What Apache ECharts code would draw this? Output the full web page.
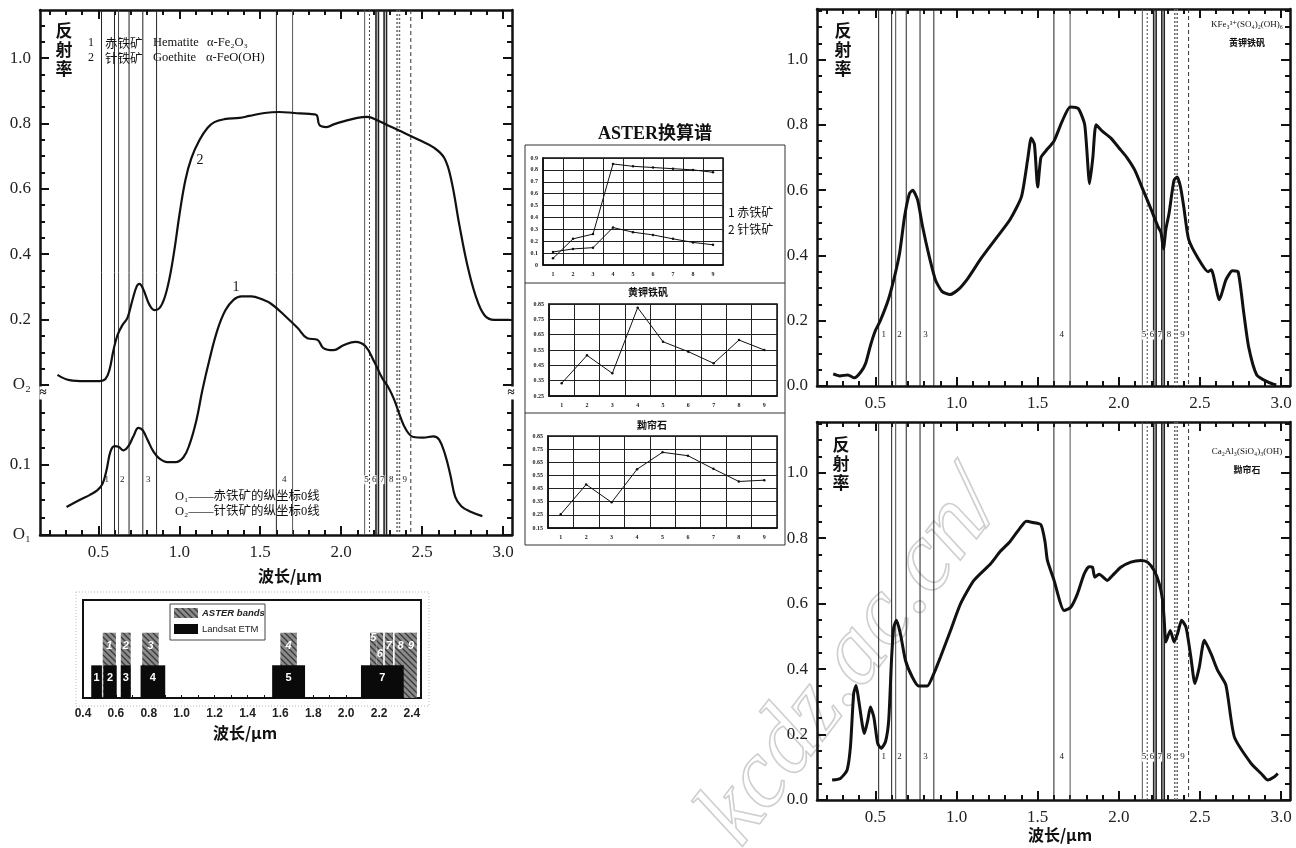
<!DOCTYPE html>
<html><head><meta charset="utf-8">
<script src="https://cdn.jsdelivr.net/npm/echarts@6/dist/echarts.min.js"></script>
<style>html,body{margin:0;padding:0;background:#fff}#c{width:1296px;height:848px}</style>
</head><body><div id="c"></div>
<script>
// ================= DATA =================
// Left panel: hematite (curve 1, lower zero O1) and goethite (curve 2, upper zero O2); [wavelength um, reflectance]
const hematiteCurve = [[0.304,0.040],[0.384,0.050],[0.446,0.057],[0.495,0.064],[0.526,0.073],[0.551,0.093],[0.575,0.119],[0.600,0.127],[0.625,0.126],[0.656,0.121],[0.686,0.127],[0.717,0.141],[0.748,0.153],[0.773,0.150],[0.804,0.136],[0.841,0.119],[0.878,0.109],[0.927,0.104],[0.977,0.104],[1.026,0.111],[1.063,0.129],[1.106,0.164],[1.143,0.207],[1.186,0.250],[1.236,0.293],[1.285,0.321],[1.335,0.336],[1.384,0.341],[1.446,0.341],[1.508,0.337],[1.569,0.330],[1.649,0.314],[1.730,0.296],[1.791,0.281],[1.853,0.279],[1.890,0.267],[1.952,0.264],[2.014,0.271],[2.088,0.276],[2.149,0.270],[2.205,0.247],[2.254,0.224],[2.291,0.211],[2.328,0.193],[2.365,0.169],[2.402,0.150],[2.446,0.140],[2.507,0.139],[2.569,0.141],[2.606,0.136],[2.643,0.114],[2.674,0.086],[2.705,0.054],[2.742,0.041],[2.792,0.034],[2.872,0.027]];
const goethiteCurve = [[0.248,0.031],[0.322,0.015],[0.415,0.012],[0.507,0.012],[0.544,0.018],[0.569,0.046],[0.594,0.107],[0.619,0.153],[0.649,0.183],[0.680,0.205],[0.711,0.260],[0.736,0.300],[0.754,0.309],[0.779,0.291],[0.816,0.245],[0.847,0.229],[0.878,0.235],[0.909,0.266],[0.940,0.327],[0.970,0.413],[1.001,0.520],[1.038,0.627],[1.075,0.694],[1.125,0.749],[1.174,0.786],[1.217,0.804],[1.279,0.813],[1.372,0.817],[1.433,0.823],[1.526,0.832],[1.618,0.835],[1.711,0.832],[1.804,0.829],[1.847,0.826],[1.866,0.795],[1.909,0.789],[1.958,0.798],[2.020,0.807],[2.100,0.817],[2.161,0.820],[2.223,0.810],[2.297,0.792],[2.390,0.771],[2.482,0.749],[2.575,0.725],[2.637,0.694],[2.680,0.627],[2.730,0.489],[2.779,0.367],[2.829,0.275],[2.884,0.214],[2.946,0.199],[3.039,0.199]];
// Right panels: jarosite and zoisite spectra
const jarositeCurve = [[0.24,0.037],[0.28,0.031],[0.33,0.034],[0.37,0.025],[0.41,0.043],[0.44,0.070],[0.47,0.125],[0.50,0.170],[0.53,0.200],[0.58,0.265],[0.62,0.340],[0.65,0.410],[0.68,0.520],[0.71,0.590],[0.73,0.600],[0.76,0.570],[0.79,0.490],[0.83,0.400],[0.87,0.325],[0.91,0.290],[0.96,0.280],[1.01,0.295],[1.07,0.330],[1.15,0.390],[1.24,0.450],[1.33,0.510],[1.40,0.580],[1.44,0.700],[1.46,0.760],[1.48,0.740],[1.50,0.610],[1.52,0.700],[1.55,0.720],[1.60,0.750],[1.65,0.810],[1.70,0.855],[1.75,0.850],[1.79,0.800],[1.82,0.620],[1.84,0.700],[1.86,0.800],[1.90,0.780],[1.95,0.760],[2.00,0.730],[2.05,0.700],[2.10,0.660],[2.15,0.600],[2.20,0.540],[2.24,0.490],[2.26,0.470],[2.275,0.420],[2.29,0.480],[2.31,0.530],[2.34,0.630],[2.36,0.640],[2.38,0.610],[2.40,0.550],[2.43,0.450],[2.49,0.390],[2.55,0.350],[2.57,0.356],[2.62,0.264],[2.66,0.325],[2.70,0.353],[2.735,0.350],[2.77,0.224],[2.80,0.120],[2.85,0.034],[2.92,0.012],[2.97,0.003]];
const zoisiteCurve = [[0.233,0.061],[0.284,0.066],[0.325,0.091],[0.346,0.162],[0.366,0.325],[0.381,0.350],[0.397,0.305],[0.432,0.203],[0.453,0.244],[0.469,0.284],[0.490,0.254],[0.514,0.173],[0.535,0.158],[0.562,0.178],[0.582,0.244],[0.599,0.427],[0.613,0.528],[0.630,0.549],[0.654,0.508],[0.685,0.427],[0.727,0.376],[0.767,0.348],[0.819,0.348],[0.860,0.386],[0.901,0.437],[0.963,0.518],[1.025,0.600],[1.107,0.671],[1.210,0.722],[1.270,0.760],[1.330,0.790],[1.390,0.830],[1.430,0.852],[1.470,0.848],[1.520,0.841],[1.545,0.790],[1.560,0.732],[1.601,0.671],[1.663,0.579],[1.704,0.589],[1.745,0.630],[1.786,0.690],[1.817,0.713],[1.838,0.711],[1.852,0.681],[1.879,0.690],[1.930,0.671],[1.961,0.686],[2.012,0.711],[2.074,0.727],[2.136,0.732],[2.177,0.727],[2.218,0.701],[2.249,0.661],[2.270,0.610],[2.280,0.549],[2.290,0.483],[2.317,0.518],[2.341,0.483],[2.362,0.508],[2.387,0.549],[2.414,0.528],[2.444,0.437],[2.469,0.356],[2.496,0.406],[2.527,0.488],[2.568,0.447],[2.609,0.396],[2.660,0.351],[2.712,0.193],[2.815,0.112],[2.877,0.081],[2.918,0.061],[2.959,0.071],[2.980,0.081]];
// ASTER band edge lines and band number positions (um)
const bandEdges = [0.52,0.60,0.625,0.69,0.775,0.86,1.60,1.70,2.145,2.175,2.215,2.23,2.265,2.28,2.345,2.36,2.43];
const bandNames = ['1','2','3','4','5','6','7','8','9'];
const bandLabelX = [0.552,0.648,0.809,1.648,2.156,2.204,2.253,2.31,2.393];
// ASTER resampled spectra (bands 1-9)
const asterCategories = ['1','2','3','4','5','6','7','8','9'];
const asterHematite = [0.11,0.135,0.146,0.315,0.276,0.253,0.22,0.19,0.17];
const asterGoethite = [0.056,0.22,0.26,0.85,0.83,0.82,0.81,0.80,0.78];
const asterJarosite = [0.333,0.515,0.398,0.826,0.604,0.539,0.463,0.615,0.550];
const asterZoisite = [0.254,0.481,0.345,0.597,0.726,0.700,0.600,0.504,0.514];
// Band comparison (start um, end um, label)
const landsatBands = [[0.45,0.515,'1'],[0.525,0.605,'2'],[0.63,0.69,'3'],[0.75,0.90,'4'],[1.55,1.75,'5'],[2.09,2.35,'7']];
const asterBands = [[0.52,0.60,'1'],[0.63,0.69,'2'],[0.76,0.86,'3'],[1.60,1.70,'4'],[2.145,2.185,'5'],[2.185,2.225,'6'],[2.235,2.285,'7'],[2.295,2.365,'8'],[2.36,2.43,'9']];
// tick labels
const xTickLabels = [0.5,1.0,1.5,2.0,2.5,3.0];
const yTickLabels = [0,0.2,0.4,0.6,0.8,1.0];
const hemTickLabels = [0,0.1];
const barTickLabels = [0.4,0.6,0.8,1.0,1.2,1.4,1.6,1.8,2.0,2.2,2.4];

// ================= STYLE / LAYOUT =================
const INK = '#111';
const SERIF = '"Liberation Serif","DejaVu Serif","Noto Sans CJK SC",serif';
const CJK = '"Noto Sans CJK SC","Noto Sans",sans-serif';
const SANS = '"Liberation Sans","DejaVu Sans",sans-serif';
const X_MIN = 0.14, X_MAX = 3.055, Y_MAX = 1.155;
const edgeStyles = [
  {c:'#222',w:1,d:null},{c:'#222',w:1,d:null},{c:'#444',w:1,d:null},{c:'#222',w:1,d:null},{c:'#222',w:1,d:null},{c:'#222',w:1,d:null},
  {c:'#222',w:1,d:null},{c:'#555',w:1,d:null},{c:'#555',w:1,d:null},{c:'#444',w:1,d:[2,2]},{c:'#222',w:1.6,d:null},{c:'#222',w:1.6,d:null},
  {c:'#222',w:1.6,d:null},{c:'#222',w:1.6,d:null},{c:'#666',w:1.5,d:[2,2]},{c:'#666',w:1.5,d:[2,2]},{c:'#333',w:1,d:[4,3]}
];
const asterLabelLevel = [1.6,1.6,1.6,1.6,1.85,1.35,1.6,1.6,1.6];

function range(a,b,s){const o=[];for(let v=a;v<=b+1e-9;v+=s)o.push(+v.toFixed(4));return o;}
function minus(all,maj){return all.filter(v=>!maj.some(m=>Math.abs(m-v)<1e-6));}

const grid = [], xAxis = [], yAxis = [], series = [];
function base(){return {type:'value',axisLine:{show:false,onZero:false},axisTick:{show:false},axisLabel:{show:false},splitLine:{show:false}};}
function addX(o){xAxis.push(Object.assign(base(),o));return xAxis.length-1;}
function addY(o){yAxis.push(Object.assign(base(),o));return yAxis.length-1;}
function ticks(vals,len,w){return {show:true,inside:true,length:len,customValues:vals,lineStyle:{color:INK,width:w}};}
const frameLine = {show:true,onZero:false,lineStyle:{color:INK,width:2.5}};
function lbl(vals,fmt,extra){return Object.assign({show:true,customValues:vals,formatter:fmt,fontFamily:SERIF,fontSize:17,color:'#222',margin:9},extra||{});}

const xMinor = minus(range(0.2,3.0,0.1),xTickLabels);

function xFrame(gi){
  const X = {gridIndex:gi,min:X_MIN,max:X_MAX};
  const xb = addX(Object.assign({},X,{position:'bottom',axisLine:frameLine,axisTick:ticks(xTickLabels,9,2),axisLabel:lbl(xTickLabels,v=>v.toFixed(1))}));
  addX(Object.assign({},X,{position:'bottom',axisTick:ticks(xMinor,5,2)}));
  addX(Object.assign({},X,{position:'top',axisLine:frameLine,axisTick:ticks(xTickLabels,9,2)}));
  addX(Object.assign({},X,{position:'top',axisTick:ticks(xMinor,5,2)}));
  return xb;
}

function bandSeries(xi, yi, labelLevel){
  series.push({type:'custom',xAxisIndex:xi,yAxisIndex:yi,silent:true,z:1,
    data:bandEdges.map((v,i)=>[v,i]),
    renderItem:(p,api)=>{const x=api.coord([api.value(0),labelLevel])[0];const cs=p.coordSys;const s=edgeStyles[p.dataIndex];
      return {type:'line',shape:{x1:x,y1:cs.y,x2:x,y2:cs.y+cs.height},style:{stroke:s.c,lineWidth:s.w,lineDash:s.d}};}
  });
  series.push({type:'custom',xAxisIndex:xi,yAxisIndex:yi,silent:true,z:3,
    data:bandLabelX.map((v,i)=>[v,labelLevel]),
    renderItem:(p,api)=>{const pt=api.coord([api.value(0),api.value(1)]);
      return {type:'text',x:pt[0],y:pt[1],style:{text:bandNames[p.dataIndex],font:'9px '+SERIF,fill:'#222',align:'center',verticalAlign:'middle',backgroundColor:'#fff'}};}
  });
}

// ---------- Grid 0: left main ----------
grid.push({left:40,top:10,width:472,height:525});
const xA = xFrame(0);
const hemMinor = minus(range(0.025,0.175,0.025),hemTickLabels);
const goeMinor = minus(range(0.05,1.1,0.05),yTickLabels);
const fmtO = (n)=>(v=>v===0?'O'+n:v.toFixed(1));
const yHem = addY({gridIndex:0,min:0,max:0.75,position:'left',axisLine:frameLine,axisTick:ticks(hemTickLabels,9,2),axisLabel:lbl(hemTickLabels,fmtO('₁'))});
addY({gridIndex:0,min:0,max:0.75,position:'left',axisTick:ticks(hemMinor,5,2)});
addY({gridIndex:0,min:0,max:0.75,position:'right',axisLine:frameLine,axisTick:ticks(hemTickLabels,9,2)});
addY({gridIndex:0,min:0,max:0.75,position:'right',axisTick:ticks(hemMinor,5,2)});
const yGoe = addY({gridIndex:0,min:-0.459,max:1.147,position:'left',axisTick:ticks(yTickLabels,9,2),axisLabel:lbl(yTickLabels,fmtO('₂'))});
addY({gridIndex:0,min:-0.459,max:1.147,position:'left',axisTick:ticks(goeMinor,5,2)});
addY({gridIndex:0,min:-0.459,max:1.147,position:'right',axisTick:ticks(yTickLabels,9,2)});
addY({gridIndex:0,min:-0.459,max:1.147,position:'right',axisTick:ticks(goeMinor,5,2)});
bandSeries(xA,yHem,0.079);
series.push({type:'line',name:'赤铁矿',xAxisIndex:xA,yAxisIndex:yHem,data:hematiteCurve,showSymbol:false,smooth:0.4,lineStyle:{color:INK,width:2.2},z:5});
series.push({type:'line',name:'针铁矿',xAxisIndex:xA,yAxisIndex:yGoe,data:goethiteCurve,showSymbol:false,smooth:0.4,lineStyle:{color:INK,width:2.2},z:5});

// ---------- Grid 1: band comparison bars ----------
grid.push({left:83,top:600,width:338,height:98,show:true,borderColor:INK,borderWidth:2,backgroundColor:'#fff'});
const xB = addX({gridIndex:1,min:0.4,max:2.455,position:'bottom',axisTick:ticks(range(0.4,2.4,0.1),3,1),
  axisLabel:{show:true,customValues:barTickLabels,formatter:v=>v.toFixed(1),fontFamily:SANS,fontWeight:'bold',fontSize:12,color:'#222',margin:10}});
const yB = addY({gridIndex:1,min:0,max:3});
function hatch(){const c=document.createElement('canvas');c.width=6;c.height=6;const g=c.getContext('2d');
  g.fillStyle='#8c8c8c';g.fillRect(0,0,6,6);g.strokeStyle='#3a3a3a';g.lineWidth=1.3;g.beginPath();
  g.moveTo(0,0);g.lineTo(6,6);g.moveTo(-3,3);g.lineTo(3,9);g.moveTo(3,-3);g.lineTo(9,3);g.stroke();return c;}
const HATCH = {type:'pattern',image:hatch(),repeat:'repeat'};
function barSeries(bands,height,fill,labelFont,levels){
  series.push({type:'custom',xAxisIndex:xB,yAxisIndex:yB,silent:true,
    data:bands.map(b=>[b[0],b[1]]),
    renderItem:(p,api)=>{const a=api.coord([api.value(0),height]);const b=api.coord([api.value(1),0]);
      const lv=levels?levels[p.dataIndex]:height/2+0.1;const t=api.coord([(api.value(0)+api.value(1))/2,lv]);
      return {type:'group',children:[
        {type:'rect',shape:{x:a[0],y:a[1],width:b[0]-a[0],height:b[1]-a[1]},style:{fill:fill}},
        {type:'text',x:t[0],y:t[1],style:{text:bands[p.dataIndex][2],font:labelFont,fill:'#fff',align:'center',verticalAlign:'middle'}}]};}
  });
}
barSeries(asterBands,2,HATCH,'italic bold 11px '+SANS,asterLabelLevel);
barSeries(landsatBands,1,'#0a0a0a','bold 11px '+SANS,null);

// ---------- Grids 2-4: ASTER resampled spectra ----------
function smallGrid(box,min,max,fmt){
  grid.push(Object.assign({show:true,borderColor:INK,borderWidth:1.5},box));
  const gi = grid.length-1;
  const xi = addX({gridIndex:gi,type:'category',data:asterCategories,boundaryGap:true,position:'bottom',
    axisLine:{show:true,onZero:false,lineStyle:{color:INK,width:1.5}},axisTick:{show:false},
    axisLabel:{show:true,fontSize:6,fontWeight:'bold',fontFamily:SERIF,color:'#222',margin:6,interval:0},
    splitLine:{show:true,interval:0,lineStyle:{color:'#222',width:1}}});
  const yi = addY({gridIndex:gi,min:min,max:max,interval:0.1,position:'left',
    axisLine:{show:true,onZero:false,lineStyle:{color:INK,width:1.5}},
    axisLabel:{show:true,fontSize:6,fontWeight:'bold',fontFamily:SERIF,color:'#222',margin:5,formatter:fmt},
    splitLine:{show:true,lineStyle:{color:'#222',width:1.2}}});
  return [xi,yi];
}
function smallLine(ax,data,name){
  series.push({type:'line',name:name,xAxisIndex:ax[0],yAxisIndex:ax[1],data:data,symbol:'circle',symbolSize:2.5,
    itemStyle:{color:INK},lineStyle:{color:INK,width:1},z:5});
}
const c1 = smallGrid({left:543,top:158,width:180,height:107},0,0.9,v=>v===0?'0':v.toFixed(1));
smallLine(c1,asterHematite,'赤铁矿');
smallLine(c1,asterGoethite,'针铁矿');
const c2 = smallGrid({left:549,top:304,width:228,height:92},0.25,0.85,v=>v.toFixed(2));
smallLine(c2,asterJarosite,'黄钾铁矾');
const c3 = smallGrid({left:548,top:436,width:229,height:92},0.15,0.85,v=>v.toFixed(2));
smallLine(c3,asterZoisite,'黝帘石');

// ---------- Grids 5-6: right spectra ----------
function rightPanel(box,data,labelLevel,name){
  grid.push(box); const gi=grid.length-1;
  const xi = xFrame(gi);
  const Y={gridIndex:gi,min:0,max:Y_MAX};
  const yMin = minus(range(0.05,1.15,0.05),yTickLabels);
  const yi = addY(Object.assign({},Y,{position:'left',axisLine:frameLine,axisTick:ticks(yTickLabels,9,2),axisLabel:lbl(yTickLabels,v=>v.toFixed(1))}));
  addY(Object.assign({},Y,{position:'left',axisTick:ticks(yMin,5,2)}));
  addY(Object.assign({},Y,{position:'right',axisLine:frameLine,axisTick:ticks(yTickLabels,9,2)}));
  addY(Object.assign({},Y,{position:'right',axisTick:ticks(yMin,5,2)}));
  bandSeries(xi,yi,labelLevel);
  series.push({type:'line',name:name,xAxisIndex:xi,yAxisIndex:yi,data:data,showSymbol:false,smooth:0.2,lineStyle:{color:INK,width:3},z:5});
}
rightPanel({left:817,top:9,width:473,height:377},jarositeCurve,0.156,'黄钾铁矾');
rightPanel({left:817,top:422,width:473,height:378},zoisiteCurve,0.131,'黝帘石');

// ================= TEXT / DECOR =================
function T(x,y,text,font,align,extra){
  return {type:'text',x:x,y:y,silent:true,z:50,style:Object.assign({text:text,font:font,fill:INK,align:align||'left',verticalAlign:'middle',textAlign:align||'left',textVerticalAlign:'middle'},extra||{})};
}
const F12 = '12.5px '+SERIF;
const graphic = [
  // watermark
  Object.assign(T(852,660,'kcdz.ac.cn/','italic 98px '+SERIF,'center',{fill:'rgba(255,255,255,0)',stroke:'#cfcfcf',lineWidth:1.6}),{rotation:0.92,z:0}),
  // left panel
  T(64,50,'反\n射\n率','bold 17px '+CJK,'center',{lineHeight:19}),
  T(91,43,'1','12px '+SERIF,'center'), T(105,43,'赤铁矿','12.5px '+CJK,'left'), T(153,43,'Hematite',F12,'left'), T(207,43,'α-Fe₂O₃',F12,'left'),
  T(91,58,'2','12px '+SERIF,'center'), T(105,58,'针铁矿','12.5px '+CJK,'left'), T(153,58,'Goethite',F12,'left'), T(206,58,'α-FeO(OH)',F12,'left'),
  T(200,160,'2','14px '+SERIF,'center'),
  T(236,287,'1','14px '+SERIF,'center'),
  T(175,497,'O₁——赤铁矿的纵坐标0线','12.5px '+SERIF,'left'),
  T(175,512,'O₂——针铁矿的纵坐标0线','12.5px '+SERIF,'left'),
  T(43,393,'≈','bold 13px '+SERIF,'center',{backgroundColor:'#fff'}),
  T(511,393,'≈','bold 13px '+SERIF,'center',{backgroundColor:'#fff'}),
  T(290,576,'波长/μm','bold 16px '+CJK,'center'),
  // bar panel
  {type:'rect',silent:true,z:0,shape:{x:76,y:592,width:353,height:114},style:{fill:'none',stroke:'#bbb',lineWidth:1,lineDash:[1,2]}},
  {type:'rect',silent:true,z:50,shape:{x:170,y:604,width:95,height:36},style:{fill:'#fff',stroke:'#444',lineWidth:1}},
  {type:'rect',silent:true,z:51,shape:{x:174,y:608,width:24,height:10},style:{fill:HATCH}},
  {type:'rect',silent:true,z:51,shape:{x:174,y:624,width:24,height:10},style:{fill:'#0a0a0a'}},
  T(202,613,'ASTER bands','italic bold 9.5px '+SANS,'left',{fill:'#222'}),
  T(202,629,'Landsat ETM','9.5px '+SANS,'left',{fill:'#222'}),
  T(245,733,'波长/μm','bold 16px '+CJK,'center'),
  // middle panel
  {type:'rect',silent:true,z:0,shape:{x:525,y:145,width:260,height:400},style:{fill:'none',stroke:'#333',lineWidth:1}},
  {type:'line',silent:true,z:0,shape:{x1:525,y1:283,x2:785,y2:283},style:{stroke:'#333',lineWidth:1}},
  {type:'line',silent:true,z:0,shape:{x1:525,y1:413,x2:785,y2:413},style:{stroke:'#333',lineWidth:1}},
  T(655,134,'ASTER换算谱','bold 18px '+SERIF,'center'),
  T(728,212,'1 赤铁矿','12px '+CJK,'left'),
  T(728,229,'2 针铁矿','12px '+CJK,'left'),
  T(648,292,'黄钾铁矾','bold 10px '+CJK,'center'),
  T(652,425,'黝帘石','bold 10px '+CJK,'center'),
  // right panels
  T(843,50,'反\n射\n率','bold 17px '+CJK,'center',{lineHeight:19}),
  T(1247,25,'KFe₃³⁺(SO₄)₂(OH)₆','9px '+SERIF,'center'),
  T(1247,43,'黄钾铁矾','bold 9px '+CJK,'center'),
  T(841,464,'反\n射\n率','bold 17px '+CJK,'center',{lineHeight:19}),
  T(1247,452,'Ca₂Al₃(SiO₄)₃(OH)','9px '+SERIF,'center'),
  T(1247,470,'黝帘石','bold 9px '+CJK,'center'),
  T(1060,835,'波长/μm','bold 16px '+CJK,'center')
];

const chart = echarts.init(document.getElementById('c'),null,{renderer:'canvas'});
chart.setOption({animation:false,backgroundColor:'#fff',grid:grid,xAxis:xAxis,yAxis:yAxis,series:series,graphic:{elements:graphic}});
</script></body></html>
